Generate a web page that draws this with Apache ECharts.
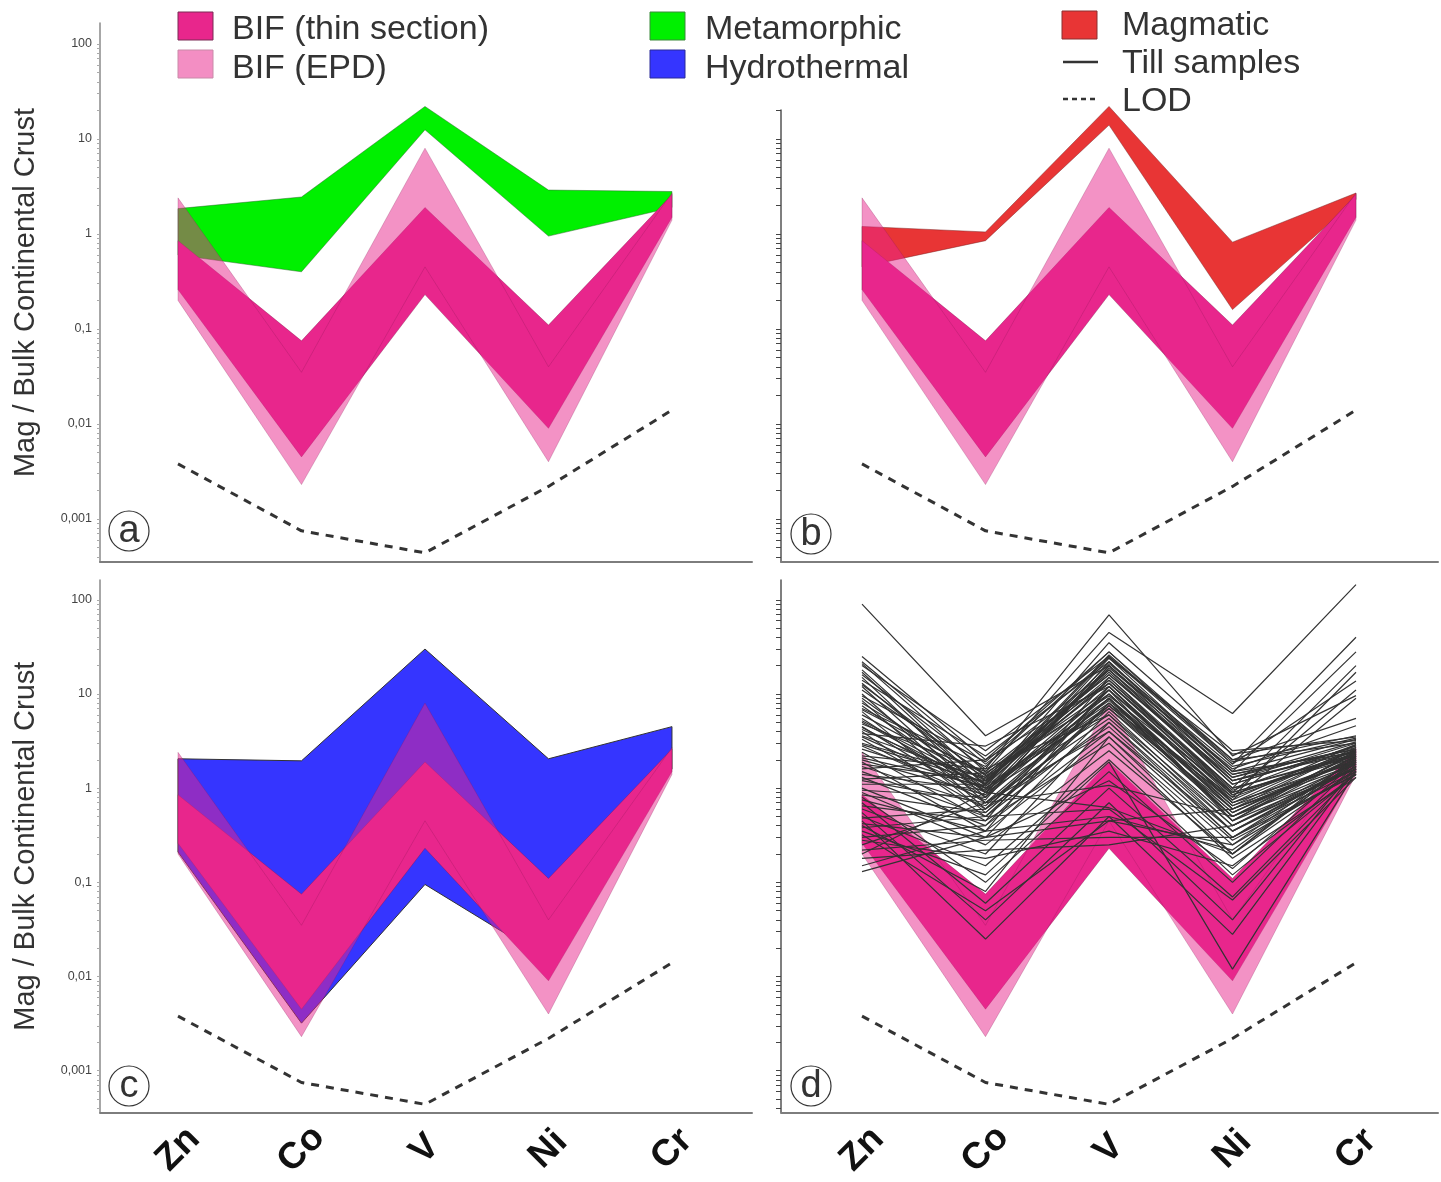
<!DOCTYPE html>
<html>
<head>
<meta charset="utf-8">
<script src="https://cdn.jsdelivr.net/npm/echarts@6/dist/echarts.min.js"></script>
<style>
  html, body { margin: 0; padding: 0; background: #fff; }
  #chart { width: 1441px; height: 1182px; }
</style>
</head>
<body>
<div id="chart"></div>
<script>
// Element order along the x axis
const elements = ['Zn', 'Co', 'V', 'Ni', 'Cr'];

// Major y ticks (decades) and their printed labels
const yTickValues = [0.001, 0.01, 0.1, 1, 10, 100];
const yTickLabels = ['0,001', '0,01', '0,1', '1', '10', '100'];

// Magnetite / bulk continental crust ranges (upper and lower envelope per element)
const bifThinUpper = [0.85, 0.075, 1.9, 0.11, 2.6];
const bifThinLower = [0.26, 0.0045, 0.23, 0.009, 1.5];
const bifEpdUpper = [2.4, 0.035, 8, 0.04, 2.7];
const bifEpdLower = [0.2, 0.0023, 0.45, 0.004, 1.4];
const metamorphicUpper = [1.85, 2.45, 22, 2.9, 2.8];
const metamorphicLower = [0.6, 0.4, 12.5, 0.95, 1.9];
const magmaticUpper = [1.2, 1.05, 22, 0.82, 2.7];
const magmaticLower = [0.45, 0.85, 14, 0.16, 2.3];
const hydrothermalUpper = [2.05, 1.95, 30, 2.05, 4.5];
const hydrothermalLower = [0.21, 0.0032, 0.095, 0.015, 1.6];

// Limit of detection
const lod = [0.0038, 0.00075, 0.00044, 0.0022, 0.014];

// Till samples: one row per sample, values for Zn, Co, V, Ni, Cr
const tillSamples = [
  [90, 3.6, 20, 1.5, 2.4],
  [25, 2.0, 28, 2.0, 3.0],
  [22, 1.8, 18, 1.2, 2.5],
  [21, 1.5, 45, 6.2, 145],
  [20, 2.5, 25, 1.8, 40],
  [18, 1.2, 15, 0.9, 2.2],
  [16, 1.6, 69, 2.2, 9.6],
  [15, 0.9, 12, 0.7, 2.0],
  [14, 2.2, 22, 1.5, 28],
  [13, 1.1, 35, 2.5, 3.2],
  [12, 0.8, 10, 0.6, 1.8],
  [11, 1.4, 14, 1.0, 20],
  [10, 0.7, 9, 0.5, 1.6],
  [9.5, 1.9, 24, 2.3, 3.5],
  [9, 1.0, 8, 0.8, 17],
  [8.5, 0.6, 11, 0.45, 2.2],
  [8, 1.3, 18, 1.1, 2.8],
  [7.5, 0.9, 6, 0.35, 1.5],
  [7, 1.7, 28, 1.8, 13.7],
  [6.5, 0.55, 7, 0.6, 2.0],
  [6, 1.2, 13, 0.9, 11],
  [5.5, 0.8, 20, 1.4, 2.6],
  [5, 1.0, 9, 0.7, 1.9],
  [4.8, 1.5, 16, 1.2, 3.0],
  [4.5, 0.7, 5.5, 0.4, 1.7],
  [4.2, 1.1, 25, 2.0, 5.5],
  [4.0, 0.5, 8, 0.55, 2.1],
  [3.8, 2.8, 12, 0.8, 2.4],
  [3.5, 0.9, 19, 1.6, 4.6],
  [3.3, 0.6, 4.5, 0.3, 1.4],
  [3.0, 1.3, 10, 0.65, 2.6],
  [2.8, 0.75, 22, 1.3, 3.1],
  [2.6, 1.0, 7, 0.5, 1.8],
  [2.4, 0.45, 15, 1.0, 2.3],
  [2.2, 1.6, 6, 0.45, 1.6],
  [2.0, 0.85, 11, 0.75, 9],
  [1.9, 0.35, 3.5, 0.25, 1.5],
  [1.8, 1.2, 17, 1.1, 2.8],
  [1.7, 0.65, 9, 0.6, 2.0],
  [1.6, 2.0, 13, 0.85, 2.5],
  [1.5, 0.5, 5, 0.35, 1.7],
  [1.4, 0.95, 24, 1.5, 3.3],
  [1.3, 0.4, 8, 0.5, 2.2],
  [1.2, 0.7, 4, 0.28, 1.4],
  [1.1, 1.1, 14, 0.95, 2.9],
  [1.0, 0.3, 6.5, 0.4, 1.9],
  [0.95, 0.8, 20, 1.2, 2.4],
  [0.9, 0.25, 2.5, 0.2, 1.6],
  [0.85, 0.55, 7.5, 0.55, 2.3],
  [0.8, 0.1, 1.5, 0.1, 1.8],
  [0.75, 0.35, 12, 0.7, 2.7],
  [0.7, 0.06, 1.0, 0.07, 1.5],
  [0.65, 0.45, 3, 0.18, 1.3],
  [0.6, 0.2, 5, 0.3, 2.0],
  [0.55, 0.04, 0.7, 0.04, 1.7],
  [0.5, 0.15, 2, 0.12, 1.4],
  [0.48, 0.6, 9, 0.45, 2.5],
  [0.45, 0.025, 0.5, 0.028, 1.6],
  [0.42, 0.3, 1.2, 0.14, 1.9],
  [0.4, 0.08, 3.5, 0.2, 2.2],
  [0.38, 0.5, 0.6, 0.065, 1.3],
  [0.35, 0.12, 1.9, 0.012, 1.5],
  [0.32, 0.05, 0.45, 0.25, 2.1],
  [0.3, 0.4, 4, 0.35, 1.8],
  [0.28, 0.18, 0.35, 0.15, 1.4],
  [0.25, 0.7, 1.07, 0.5, 2.4],
  [0.22, 0.28, 0.3, 0.3, 1.7],
  [0.2, 0.9, 0.62, 0.2, 2.0],
  [0.18, 0.22, 0.25, 0.4, 1.6],
  [0.15, 0.35, 0.5, 0.22, 1.9],
  [0.13, 0.3, 0.45, 0.6, 2.6],
  [6.8, 1.4, 16, 1.3, 2.7],
  [5.2, 1.1, 21, 1.7, 3.4],
  [3.6, 1.25, 13, 1.0, 2.2],
  [2.1, 1.05, 18, 1.4, 2.6],
  [12.5, 1.35, 11, 0.85, 2.3],
  [17, 1.05, 8.5, 0.65, 1.9],
  [4.4, 0.95, 7.5, 0.75, 2.9],
  [1.25, 1.45, 9.5, 0.9, 2.1],
  [2.9, 1.15, 26, 1.9, 3.6]
];

const FONT = '"Liberation Sans", Arial, Helvetica, sans-serif';
const PINK = '#E8268C';

// Minor log ticks 1..9 x 10^k
const minorTicks = [];
for (let e = -4; e <= 2; e++) {
  for (let m = 1; m <= 9; m++) minorTicks.push(+(m * Math.pow(10, e)).toPrecision(3));
}

function decadeLabel(v) {
  const i = yTickValues.findIndex(t => Math.abs(Math.log10(t) - Math.log10(v)) < 1e-6);
  return i >= 0 ? yTickLabels[i] : '';
}

const grids = [
  { left: 100, top: 23, width: 652, height: 539 },   // a
  { left: 781, top: 110, width: 657, height: 452 },  // b
  { left: 100, top: 580, width: 652, height: 537 },  // c
  { left: 781, top: 580, width: 657, height: 537 }   // d
];
const yRanges = [
  [Math.pow(10, -3.453), Math.pow(10, 2.221)],
  [Math.pow(10, -3.453), Math.pow(10, 1.305)],
  [Math.pow(10, -3.442), Math.pow(10, 2.21)],
  [Math.pow(10, -3.442), Math.pow(10, 2.21)]
];
const xRanges = [
  [-0.6316, 4.648],
  [-0.656, 4.664],
  [-0.6316, 4.648],
  [-0.656, 4.664]
];

const xAxes = grids.map((g, i) => ({
  type: 'value', gridIndex: i, min: xRanges[i][0], max: xRanges[i][1],
  axisLine: { show: true, onZero: false, lineStyle: { color: '#7d7d7d', width: 2 } },
  axisTick: { show: false },
  splitLine: { show: false },
  axisLabel: i >= 2 ? {
    show: true, customValues: [0, 1, 2, 3, 4],
    formatter: v => elements[Math.round(v)] || '',
    rotate: 45, align: 'center', verticalAlign: 'middle', margin: 37,
    fontSize: 37, fontWeight: 'bold', color: '#111', fontFamily: FONT
  } : { show: false }
}));

const yAxes = grids.map((g, i) => {
  const left = (i === 0 || i === 2);
  const ax = {
    type: 'log', logBase: 10, gridIndex: i, min: yRanges[i][0], max: yRanges[i][1],
    axisLine: { show: true, onZero: false, lineStyle: { color: left ? '#8a8a8a' : '#555', width: 1.5 } },
    axisTick: { show: true, customValues: minorTicks, length: left ? 3 : 5,
      lineStyle: { color: left ? '#aaa' : '#444', width: 1 } },
    splitLine: { show: false },
    axisLabel: left ? {
      show: true, customValues: yTickValues, formatter: decadeLabel,
      fontSize: 12.5, color: '#444', margin: 8, fontFamily: FONT
    } : { show: false }
  };
  if (left) {
    ax.name = 'Mag / Bulk Continental Crust';
    ax.nameLocation = 'middle';
    ax.nameGap = 60;
    ax.nameTextStyle = { fontSize: 29, color: '#333', fontFamily: FONT };
  }
  return ax;
});

// Filled envelope between an upper and lower profile, drawn through the axis scales
function band(panel, name, upper, lower, style, z) {
  return {
    type: 'custom', name: name, xAxisIndex: panel, yAxisIndex: panel, z: z,
    clip: false, silent: true,
    data: [[0, upper[0]]],
    renderItem: function (params, api) {
      const pts = [];
      for (let i = 0; i < upper.length; i++) pts.push(api.coord([i, upper[i]]));
      for (let i = lower.length - 1; i >= 0; i--) pts.push(api.coord([i, lower[i]]));
      return { type: 'polygon', shape: { points: pts }, style: style };
    }
  };
}

function profile(panel, name, values, lineStyle, z) {
  return {
    type: 'line', name: name, xAxisIndex: panel, yAxisIndex: panel, z: z,
    symbol: 'none', silent: true, clip: false,
    data: values.map((v, i) => [i, v]),
    lineStyle: lineStyle
  };
}

const thinStyle = { fill: PINK, stroke: 'rgba(120,20,70,0.45)', lineWidth: 0.8 };
const epdStyle = { fill: 'rgba(232,38,140,0.5)', stroke: 'rgba(130,20,80,0.3)', lineWidth: 0.8 };
const lodStyle = { color: '#333', width: 3, type: [8, 7] };

const series = [];
// a: metamorphic
series.push(band(0, 'Metamorphic', metamorphicUpper, metamorphicLower,
  { fill: '#00F000', stroke: 'rgba(40,100,40,0.6)', lineWidth: 0.8 }, 1));
// b: magmatic
series.push(band(1, 'Magmatic', magmaticUpper, magmaticLower,
  { fill: '#E83535', stroke: 'rgba(120,30,30,0.6)', lineWidth: 0.8 }, 1));
// c: hydrothermal
series.push(band(2, 'Hydrothermal', hydrothermalUpper, hydrothermalLower,
  { fill: '#3535FF', stroke: '#333', lineWidth: 1 }, 1));
// BIF envelopes in every panel
for (let p = 0; p < 4; p++) {
  series.push(band(p, 'BIF (thin section)', bifThinUpper, bifThinLower, thinStyle, 2));
  series.push(band(p, 'BIF (EPD)', bifEpdUpper, bifEpdLower, epdStyle, 3));
}
// d: till samples
tillSamples.forEach(row => {
  series.push(profile(3, 'Till samples', row, { color: '#333', width: 1.2 }, 4));
});
// LOD in every panel
for (let p = 0; p < 4; p++) series.push(profile(p, 'LOD', lod, lodStyle, 5));

// Legend and panel letters
function swatch(x, y, fill, stroke) {
  return { type: 'rect', shape: { x: x, y: y, width: 35, height: 28 },
    style: { fill: fill, stroke: stroke, lineWidth: 1 }, z: 10 };
}
function legendText(x, y, text) {
  return { type: 'text', z: 10, style: { x: x, y: y, text: text, fontSize: 34,
    fontFamily: FONT, fill: '#333', align: 'left', verticalAlign: 'middle' } };
}
function panelLetter(cx, cy, letter) {
  return [
    { type: 'circle', z: 10, shape: { cx: cx, cy: cy, r: 20 },
      style: { fill: '#fff', stroke: '#333', lineWidth: 1.2 } },
    { type: 'text', z: 11, style: { x: cx, y: cy + 1, text: letter, fontSize: 38,
      fontFamily: FONT, fill: '#333', align: 'center', verticalAlign: 'middle' } }
  ];
}

const graphic = [
  swatch(178, 12, PINK, '#7a2a55'),
  legendText(232, 30, 'BIF (thin section)'),
  swatch(178, 50, '#F38EC3', '#c98aa8'),
  legendText(232, 69, 'BIF (EPD)'),
  swatch(650, 12, '#00F000', '#3a8a3a'),
  legendText(705, 30, 'Metamorphic'),
  swatch(650, 50, '#3535FF', '#2a2a99'),
  legendText(705, 69, 'Hydrothermal'),
  swatch(1062, 11, '#E83535', '#8a3030'),
  legendText(1122, 26, 'Magmatic'),
  { type: 'line', z: 10, shape: { x1: 1063, y1: 62, x2: 1098, y2: 62 },
    style: { stroke: '#333', lineWidth: 2.5 } },
  legendText(1122, 64, 'Till samples'),
  { type: 'line', z: 10, shape: { x1: 1063, y1: 99, x2: 1096, y2: 99 },
    style: { stroke: '#333', lineWidth: 2.5, lineDash: [5, 4] } },
  legendText(1122, 102, 'LOD')
].concat(panelLetter(129, 531, 'a'), panelLetter(811, 534, 'b'),
         panelLetter(129, 1086, 'c'), panelLetter(811, 1086, 'd'));

const chart = echarts.init(document.getElementById('chart'), null, { renderer: 'canvas' });
chart.setOption({
  animation: false,
  backgroundColor: '#fff',
  grid: grids,
  xAxis: xAxes,
  yAxis: yAxes,
  series: series,
  graphic: graphic
});
</script>
</body>
</html>
